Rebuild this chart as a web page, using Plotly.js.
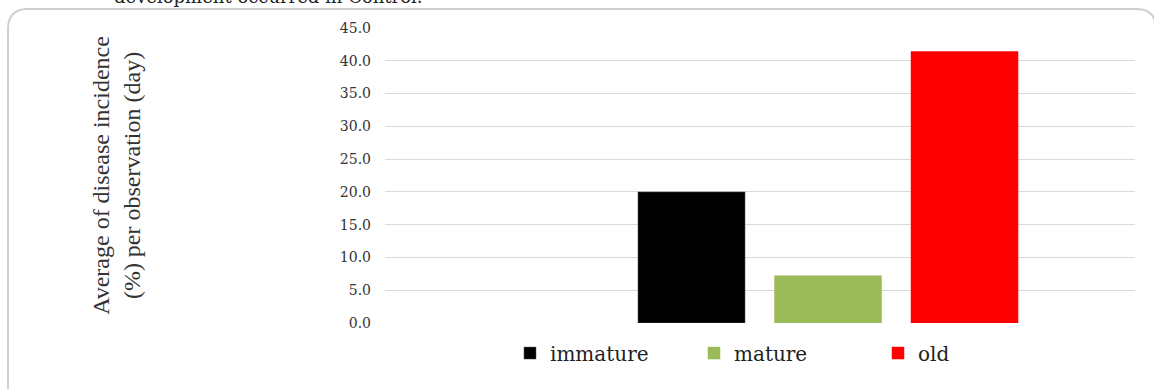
<!DOCTYPE html>
<html>
<head>
<meta charset="utf-8">
<script src="https://cdn.plot.ly/plotly-3.0.1.min.js"></script>
<style>html,body{margin:0;padding:0;background:#fff;}#chart{width:1154px;height:389px;}</style>
</head>
<body>
<div id="chart"></div>
<script>
const category = [''];
const seriesNames = ['immature', 'mature', 'old'];
const seriesValues = [[20.0], [7.2], [41.4]];
const seriesColors = ['#000000', '#9BBB59', '#FF0000'];
const yTicks = [0, 5, 10, 15, 20, 25, 30, 35, 40, 45];
const yTickLabels = ['0.0', '5.0', '10.0', '15.0', '20.0', '25.0', '30.0', '35.0', '40.0', '45.0'];

const traces = seriesNames.map((n, i) => ({
  type: 'bar', name: n, x: category, y: seriesValues[i],
  marker: {color: seriesColors[i], line: {color: i === 0 ? '#555' : seriesColors[i], width: 0.5}},
  hoverinfo: 'skip'
}));

// box corners in paper coords (plot area 385..1135 px, 28..323 px)
const px = v => (v - 385) / 750;
const py = v => (323 - v) / 295;
const L = px(8), R = px(1156), T = py(9), B = py(400);
const rx = 20 / 750, ry = 20 / 295;
const boxPath = `M ${L} ${B} L ${L} ${T - ry} Q ${L} ${T} ${L + rx} ${T} L ${R - rx} ${T} Q ${R} ${T} ${R} ${T - ry} L ${R} ${B}`;

const layout = {
  width: 1154, height: 389,
  margin: {l: 385, r: 19, t: 28, b: 66},
  paper_bgcolor: '#fff', plot_bgcolor: '#fff',
  barmode: 'group', bargap: 0.2, bargroupgap: 0.216,
  showlegend: true,
  legend: {orientation: 'h', x: px(510), xanchor: 'left', y: -0.102, yanchor: 'middle',
    font: {family: 'DejaVu Serif', size: 20, color: '#222'},
    entrywidth: 139, entrywidthmode: 'pixels', traceorder: 'normal'},
  xaxis: {type: 'category', range: [-0.8654, 0.5997], showticklabels: false, showgrid: false,
    zeroline: false, showline: false, ticks: '', fixedrange: true},
  yaxis: {range: [0, 45], tickvals: yTicks, ticktext: yTickLabels, showgrid: true,
    gridcolor: '#d9d9d9', gridwidth: 1, zeroline: false, showline: false, ticks: '',
    ticklabelstandoff: 13,
    tickfont: {family: 'DejaVu Serif', size: 14, color: '#333'},
    title: {text: 'Average of disease incidence<br>(%) per observation (day)',
      font: {family: 'Liberation Serif', size: 24, color: '#333'}, standoff: 192},
    automargin: true},
  shapes: [{type: 'path', xref: 'paper', yref: 'paper', path: boxPath,
    line: {color: '#cfcfcf', width: 2}, layer: 'below'}],
  annotations: [{xref: 'paper', yref: 'paper', x: px(112), y: py(9), xanchor: 'left', yanchor: 'bottom',
    text: 'development occurred in Control.', showarrow: false,
    font: {family: 'DejaVu Serif', size: 18, color: '#222'}}]
};

Plotly.newPlot('chart', traces, layout, {displayModeBar: false, staticPlot: true});
</script>
</body>
</html>
